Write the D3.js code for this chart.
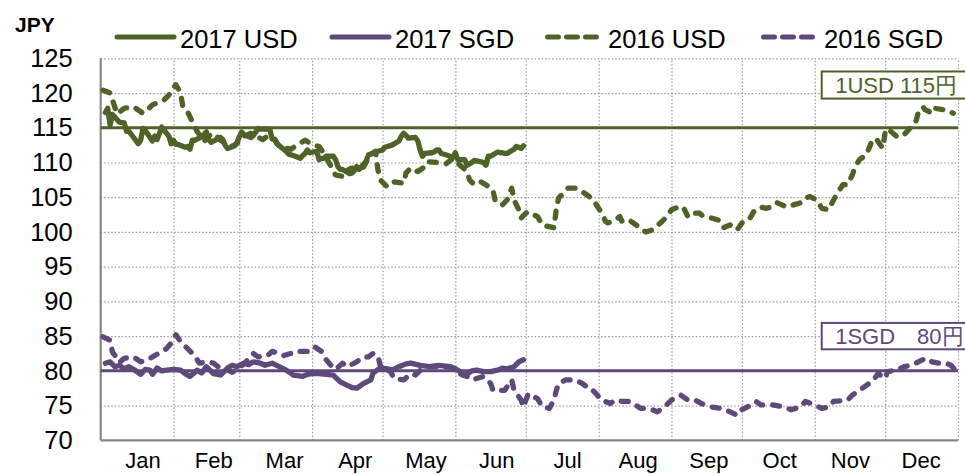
<!DOCTYPE html>
<html>
<head>
<meta charset="utf-8">
<script src="https://d3js.org/d3.v7.min.js"></script>
<style>
body { margin: 0; background: #fff; }
svg { display: block; font-family: "Liberation Sans", Arial, sans-serif; }
.grid line { stroke: #9a9a9a; stroke-width: 1.2; stroke-dasharray: 1.5 2; }
.grid .domain { display: none; }
</style>
</head>
<body>
<div id="chart"></div>
<script>
// day of year (Jan 1 = 0) and JPY rate
const months = ["Jan", "Feb", "Mar", "Apr", "May", "Jun", "Jul", "Aug", "Sep", "Oct", "Nov", "Dec"];
const monthStarts = [0, 31, 59, 90, 120, 151, 181, 212, 243, 273, 304, 334, 365];
const yTicks = [70, 75, 80, 85, 90, 95, 100, 105, 110, 115, 120, 125];

const usd2017 = [[2,117.2],[3,117.8],[4,115.4],[5,116.9],[8,115.8],[10,115.7],[11,114.5],[12,114.5],[16,112.7],[17,113.2],[18,114.9],[19,114.6],[22,113.1],[23,113.8],[24,113.3],[26,115.1],[29,113.8],[30,112.7],[31,113.2],[32,112.6],[33,112.6],[36,112.2],[37,112.3],[38,111.9],[39,113.2],[40,113.2],[43,113.7],[45,114.4],[46,113.3],[47,112.9],[51,113.6],[52,113.3],[53,112.5],[54,112.0],[57,112.4],[58,112.8],[59,113.7],[60,114.4],[61,114.0],[64,113.6],[65,113.9],[66,114.4],[67,114.9],[68,114.8],[71,114.8],[72,114.8],[73,113.4],[74,113.3],[75,112.7],[79,111.6],[80,111.2],[82,111.0],[85,110.6],[86,111.0],[87,111.3],[88,111.8],[89,111.4],[92,111.6],[93,110.4],[94,110.6],[95,110.6],[96,110.9],[99,110.9],[100,110.4],[101,109.4],[102,109.0],[103,109.0],[106,108.4],[107,108.5],[108,108.8],[109,109.4],[110,109.0],[113,110.2],[114,111.1],[115,111.2],[116,111.3],[117,111.5],[120,111.8],[121,112.2],[124,112.5],[127,113.1],[128,113.8],[129,114.2],[130,113.9],[131,113.5],[134,113.6],[135,113.1],[136,111.8],[137,110.9],[138,111.3],[141,111.4],[142,111.5],[143,111.8],[144,111.8],[145,111.3],[148,111.0],[149,110.8],[150,110.8],[151,111.4],[152,110.4],[155,110.4],[156,109.6],[157,109.8],[158,110.0],[159,110.3],[162,110.1],[163,110.0],[164,109.6],[165,110.9],[166,110.9],[169,111.5],[170,111.4],[171,111.4],[172,111.3],[173,111.3],[176,111.9],[177,112.3],[178,112.2],[179,112.0],[180,112.4]];

const sgd2017 = [[2,81.1],[4,81.3],[6,80.6],[8,80.8],[10,80.3],[12,80.6],[15,80.0],[17,79.5],[19,80.2],[21,80.1],[22,79.5],[24,80.4],[26,80.0],[28,80.1],[31,80.2],[34,80.1],[36,79.6],[38,79.2],[41,80.1],[43,79.7],[45,80.6],[48,79.6],[51,79.4],[54,80.4],[56,80.8],[58,80.6],[61,81.1],[63,80.9],[65,81.3],[68,81.1],[70,80.8],[73,81.1],[76,80.6],[79,80.1],[82,79.4],[86,79.2],[88,79.5],[90,79.6],[93,79.6],[96,79.5],[99,79.4],[102,78.4],[105,77.9],[107,77.6],[109,77.5],[112,78.2],[115,78.7],[116,79.7],[119,80.4],[122,80.3],[124,80.1],[127,80.6],[130,81.0],[132,81.1],[136,80.8],[140,80.6],[142,80.7],[144,80.8],[149,80.6],[151,80.3],[153,79.9],[156,79.6],[158,80.0],[160,80.1],[163,79.9],[166,79.9],[169,80.1],[171,80.4],[173,80.3],[176,80.6],[178,81.3],[180,81.6]];

const usd2016 = [[1,120.4],[4,120.0],[5,119.0],[7,117.0],[10,117.8],[14,118.0],[18,117.1],[20,117.6],[22,118.3],[27,119.0],[29,119.7],[30,120.2],[32,121.2],[34,120.0],[35,118.0],[37,117.3],[39,115.9],[41,114.5],[44,113.0],[46,113.8],[48,114.2],[51,113.2],[53,112.8],[56,112.3],[59,113.0],[61,113.8],[64,114.2],[66,113.8],[69,113.3],[71,113.8],[74,113.4],[76,112.3],[81,111.9],[84,112.6],[87,113.2],[90,112.6],[93,112.3],[95,111.3],[98,109.5],[100,108.2],[103,108.0],[105,108.9],[107,109.2],[110,108.8],[112,109.4],[115,111.2],[117,111.6],[118,109.0],[119,107.5],[122,106.5],[125,107.2],[129,107.0],[130,108.5],[132,109.2],[135,108.7],[138,109.4],[139,110.1],[143,110.0],[144,110.0],[147,109.8],[150,110.6],[153,109.6],[156,108.7],[157,107.5],[159,106.8],[162,107.2],[164,106.8],[167,106.0],[168,104.4],[171,103.9],[173,104.6],[175,106.3],[176,104.6],[178,103.2],[179,102.0],[181,102.7],[182,102.9],[186,102.2],[188,101.0],[193,100.6],[194,103.4],[195,104.9],[199,106.3],[202,106.3],[204,106.0],[205,105.8],[208,105.1],[210,104.6],[211,103.9],[213,102.9],[214,102.2],[215,101.5],[216,101.3],[219,101.7],[221,102.2],[222,101.5],[225,101.7],[228,101.0],[232,100.0],[235,100.3],[239,101.5],[241,102.2],[243,103.2],[246,103.6],[248,103.6],[250,102.2],[252,102.7],[255,102.7],[256,102.4],[260,102.0],[263,101.7],[265,100.6],[268,101.0],[271,100.3],[273,101.3],[276,101.7],[278,102.9],[281,103.6],[283,103.4],[286,103.6],[288,104.2],[292,103.6],[295,103.9],[298,104.2],[300,104.9],[302,105.1],[305,104.6],[307,103.4],[310,103.2],[312,104.6],[314,105.8],[316,106.8],[318,106.8],[320,108.2],[321,109.2],[323,110.4],[326,111.1],[328,112.8],[330,113.5],[332,112.5],[333,112.1],[334,114.4],[335,114.9],[339,113.7],[342,114.0],[345,115.1],[347,115.8],[348,117.1],[350,118.0],[351,117.6],[354,117.1],[355,117.8],[359,117.6],[363,117.1]];

const sgd2016 = [[1,84.9],[4,84.4],[5,82.7],[7,81.8],[8,81.2],[10,81.8],[14,82.0],[17,81.3],[20,81.6],[21,81.8],[26,82.8],[28,83.2],[30,84.0],[32,85.2],[34,84.2],[37,83.2],[40,82.2],[42,81.1],[46,81.3],[48,81.1],[50,80.6],[53,80.3],[56,79.8],[58,80.2],[61,81.0],[65,82.5],[67,82.0],[71,82.2],[73,82.8],[76,82.5],[78,82.2],[81,82.5],[83,82.8],[88,82.8],[91,83.5],[94,82.8],[96,81.6],[98,80.8],[100,80.2],[103,81.1],[105,80.6],[109,81.3],[112,82.0],[114,82.0],[116,82.5],[118,82.2],[119,80.8],[121,79.9],[123,80.1],[125,78.9],[129,78.7],[132,79.6],[134,79.4],[137,80.4],[140,80.6],[147,80.6],[150,80.4],[154,79.4],[156,79.2],[158,78.7],[160,78.9],[163,79.2],[166,78.2],[167,77.2],[172,77.2],[175,78.7],[176,77.2],[179,75.8],[180,74.8],[182,76.7],[186,76.0],[188,74.8],[191,74.6],[193,75.8],[194,77.2],[195,78.2],[198,78.7],[199,78.7],[202,78.7],[205,78.2],[207,77.7],[208,77.7],[211,76.7],[213,75.8],[217,75.3],[219,75.8],[222,75.6],[225,75.6],[230,74.6],[232,74.6],[235,74.4],[237,74.1],[240,74.8],[243,75.8],[247,76.5],[250,75.8],[253,75.8],[257,75.1],[260,74.8],[264,74.6],[268,74.1],[271,73.6],[273,74.4],[277,75.1],[279,75.6],[281,75.1],[286,75.1],[291,74.8],[294,74.4],[298,74.8],[300,75.6],[304,75.1],[307,74.6],[310,74.8],[312,75.6],[318,75.8],[320,76.5],[323,77.2],[326,77.9],[329,78.7],[331,79.6],[334,78.9],[335,79.9],[339,80.1],[342,80.6],[345,80.8],[347,81.1],[350,81.6],[351,81.8],[354,81.3],[357,81.1],[360,81.1],[362,80.8],[364,80.1]];

const refValues = [115, 80];
const refLabels = ["1USD 115円", "1SGD\u300080円"];

const GREEN = "#4f6228";
const PURPLE = "#5f497a";

const series = [
    { name: "2017 USD", data: usd2017, color: GREEN, dashed: false },
    { name: "2017 SGD", data: sgd2017, color: PURPLE, dashed: false },
    { name: "2016 USD", data: usd2016, color: GREEN, dashed: true },
    { name: "2016 SGD", data: sgd2016, color: PURPLE, dashed: true }
];

const margin = { top: 58.3, right: 7, bottom: 33.7, left: 100.7 };
const W = 965, H = 474;
const width = W - margin.left - margin.right;
const height = H - margin.top - margin.bottom;

const x = d3.scaleLinear().domain([0, 365]).range([0, width]);
const y = d3.scaleLinear().domain([70, 125]).range([height, 0]);
// month labels sit in evenly spaced slots
const xLabel = d3.scaleBand().domain(months).range([7, width - 1.5]);

const svg = d3.select("#chart").append("svg")
    .attr("width", W)
    .attr("height", H);

const g = svg.append("g")
    .attr("transform", "translate(" + margin.left + "," + margin.top + ")");

// dotted grid
g.append("g")
    .attr("class", "grid")
    .call(d3.axisLeft(y).tickValues(yTicks.slice(1)).tickSize(-width).tickFormat(""));

g.append("g")
    .attr("class", "grid")
    .attr("transform", "translate(0," + height + ")")
    .call(d3.axisBottom(x).tickValues(monthStarts.slice(1)).tickSize(height).tickFormat(""))
    .selectAll("line").attr("y2", -height);

// y labels
const yAxis = g.append("g")
    .call(d3.axisLeft(y).tickValues(yTicks).tickSize(0).tickPadding(28));
yAxis.select(".domain").remove();
yAxis.selectAll("text")
    .style("font-family", "Liberation Sans, Arial, sans-serif")
    .style("font-size", "25.5px")
    .attr("fill", "#000");

// x labels
const xAxis = g.append("g")
    .attr("transform", "translate(0," + height + ")")
    .call(d3.axisBottom(xLabel).tickSize(0).tickPadding(12));
xAxis.select(".domain").remove();
xAxis.selectAll("text")
    .style("font-family", "Liberation Sans, Arial, sans-serif")
    .style("font-size", "22px")
    .attr("fill", "#000");

// solid left and bottom axis lines
g.append("line")
    .attr("x1", 0).attr("x2", 0)
    .attr("y1", 0).attr("y2", height)
    .attr("stroke", "#868686").attr("stroke-width", 2.2);
g.append("line")
    .attr("x1", 0).attr("x2", width)
    .attr("y1", height).attr("y2", height)
    .attr("stroke", "#868686").attr("stroke-width", 2.2);

// 115 / 80 reference lines
g.selectAll(".ref")
    .data(refValues)
    .enter().append("line")
    .attr("class", "ref")
    .attr("x1", 0).attr("x2", width)
    .attr("y1", d => y(d)).attr("y2", d => y(d))
    .attr("stroke", (d, i) => i === 0 ? GREEN : PURPLE)
    .attr("stroke-width", 3);

const line = d3.line()
    .x(d => x(d[0]))
    .y(d => y(d[1]));

// 2016 under 2017
g.selectAll(".series")
    .data(series.slice().reverse())
    .enter().append("path")
    .attr("class", "series")
    .attr("d", d => line(d.data))
    .attr("fill", "none")
    .attr("stroke", d => d.color)
    .attr("stroke-width", 5.3)
    .attr("stroke-linejoin", "round")
    .attr("stroke-linecap", "round")
    .attr("stroke-dasharray", d => d.dashed ? "7,10" : null);

// boxed labels at the right
const boxTop = [123.1, 86.9];
const boxBottom = [119.2, 83.1];
const boxes = g.selectAll(".refbox")
    .data(refLabels)
    .enter().append("g")
    .attr("class", "refbox");
boxes.append("rect")
    .attr("x", 721)
    .attr("y", (d, i) => y(boxTop[i]))
    .attr("width", 160)
    .attr("height", (d, i) => y(boxBottom[i]) - y(boxTop[i]))
    .attr("fill", "#fff")
    .attr("stroke", (d, i) => i === 0 ? GREEN : PURPLE)
    .attr("stroke-width", 2);
boxes.append("text")
    .attr("x", 734.5)
    .attr("y", (d, i) => (y(boxTop[i]) + y(boxBottom[i])) / 2 + 8)
    .attr("fill", (d, i) => i === 0 ? GREEN : PURPLE)
    .style("font-size", "22px")
    .text(d => d);

// legend
svg.append("text")
    .attr("x", 15)
    .attr("y", 31.5)
    .style("font-size", "21px")
    .style("font-weight", "bold")
    .text("JPY");

const legendX = [117, 332, 545, 761];
const legend = svg.selectAll(".legend")
    .data(series)
    .enter().append("g")
    .attr("class", "legend")
    .attr("transform", (d, i) => "translate(" + legendX[i] + ",37)");
legend.append("line")
    .attr("x1", (d) => d.dashed ? 2.5 : 0)
    .attr("x2", (d) => d.dashed ? 52 : 57)
    .attr("stroke", d => d.color)
    .attr("stroke-width", 5)
    .attr("stroke-linecap", "round")
    .attr("stroke-dasharray", d => d.dashed ? "11,8" : null);
legend.append("text")
    .attr("x", 63)
    .attr("y", 10.5)
    .style("font-size", "25.5px")
    .text(d => d.name);
</script>
</body>
</html>
